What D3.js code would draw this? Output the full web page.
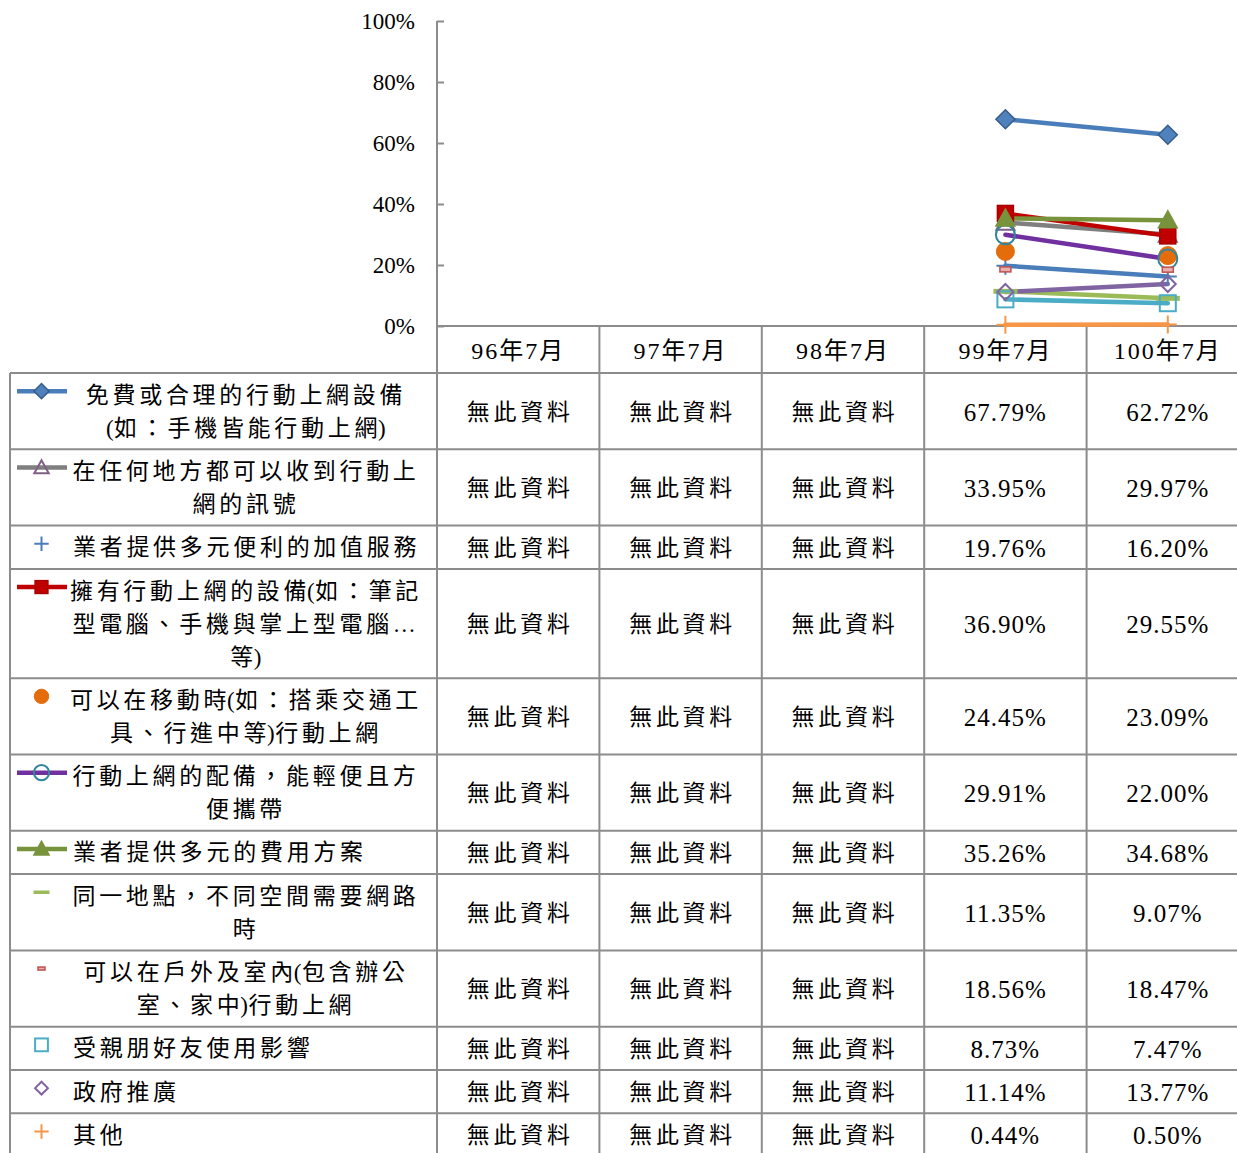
<!DOCTYPE html>
<html><head><meta charset="utf-8">
<script src="https://cdn.jsdelivr.net/npm/d3@7"></script>
<style>body{margin:0;background:#fff;} svg{display:block;}</style>
</head><body><svg id="c" width="1237" height="1153"></svg>
<script>
const categories = ["96年7月", "97年7月", "98年7月", "99年7月", "100年7月"];
const seriesLabels = [
  ["免費或合理的行動上網設備", "(如：手機皆能行動上網)"],
  ["在任何地方都可以收到行動上", "網的訊號"],
  ["業者提供多元便利的加值服務"],
  ["擁有行動上網的設備(如：筆記", "型電腦、手機與掌上型電腦…", "等)"],
  ["可以在移動時(如：搭乘交通工", "具、行進中等)行動上網"],
  ["行動上網的配備，能輕便且方", "便攜帶"],
  ["業者提供多元的費用方案"],
  ["同一地點，不同空間需要網路", "時"],
  ["可以在戶外及室內(包含辦公", "室、家中)行動上網"],
  ["受親朋好友使用影響"],
  ["政府推廣"],
  ["其他"]
];
const values96 = [null, null, null, null, null, null, null, null, null, null, null, null];
const values97 = [null, null, null, null, null, null, null, null, null, null, null, null];
const values98 = [null, null, null, null, null, null, null, null, null, null, null, null];
const values99 = [67.79, 33.95, 19.76, 36.90, 24.45, 29.91, 35.26, 11.35, 18.56, 8.73, 11.14, 0.44];
const values100 = [62.72, 29.97, 16.20, 29.55, 23.09, 22.00, 34.68, 9.07, 18.47, 7.47, 13.77, 0.50];
const yTicks = [0, 20, 40, 60, 80, 100];
const noDataText = "無此資料";

const styles = [
  {line:"#4a7ebb", marker:"diamond", fill:"#4f81bd", stroke:"#385d8a", legendLine:true},
  {line:"#7f7f7f", marker:"triangle", fill:"none", stroke:"#7f6084", legendLine:true},
  {line:"#4a7ebb", marker:"plus", fill:"none", stroke:"#4a7ebb", legendLine:false},
  {line:"#c00000", marker:"square", fill:"#c00000", stroke:"#a80000", legendLine:true},
  {line:null, marker:"circle", fill:"#e46c0a", stroke:"#e46c0a", legendLine:false},
  {line:"#7030a0", marker:"circle", fill:"none", stroke:"#31859c", legendLine:true},
  {line:"#77933c", marker:"triangle", fill:"#77933c", stroke:"#77933c", legendLine:true},
  {line:"#9bbb59", marker:"dash", fill:"#9bbb59", stroke:"none", legendLine:false},
  {line:null, marker:"smalldash", fill:"#e6b0ae", stroke:"#c0504d", legendLine:false},
  {line:"#4bacc6", marker:"square", fill:"none", stroke:"#4bacc6", legendLine:false},
  {line:"#8064a2", marker:"diamond", fill:"none", stroke:"#8064a2", legendLine:false},
  {line:"#f79646", marker:"plus", fill:"none", stroke:"#f79646", legendLine:false}
];

const allValues = [values96, values97, values98, values99, values100];
const series = seriesLabels.map((lab, i) => ({
  label: lab,
  values: categories.map((c, k) => ({cat: c, v: allValues[k][i]})),
  style: styles[i]
}));

const svg = d3.select("#c");
const gridColor = "#8c8c8c";
const serif = "'Liberation Serif', 'Noto Sans CJK TC', serif";
const cjk = "'Liberation Serif', 'Noto Sans CJK TC', sans-serif";
const cjkSize = 23, cjkSpacing = 3.7;

const plotLeft = 437, colW = 162.4, tableLeft = 10, W = 1237;
const x = d3.scaleBand().domain(categories).range([plotLeft, plotLeft + colW * categories.length]);
const y = d3.scaleLinear().domain([0, 100]).range([326, 21]);
const cx = c => x(c) + x.bandwidth() / 2;

// ---- Table geometry
const headerTop = y(0), headerBottom = 373;
const rowH = n => 43.3 + 33 * (n - 1);
let acc = headerBottom;
const rows = series.map(s => { const top = acc; const h = rowH(s.label.length); acc += h; return {top, h}; });

// grid lines
const grid = svg.append("g").attr("stroke", gridColor).attr("stroke-width", 2);
grid.append("line").attr("x1", plotLeft).attr("x2", W).attr("y1", headerTop).attr("y2", headerTop);
grid.append("line").attr("x1", tableLeft).attr("x2", W).attr("y1", headerBottom).attr("y2", headerBottom);
rows.forEach(r => grid.append("line").attr("x1", tableLeft).attr("x2", W).attr("y1", r.top + r.h).attr("y2", r.top + r.h));
grid.append("line").attr("x1", tableLeft).attr("x2", tableLeft).attr("y1", headerBottom).attr("y2", 1153);
grid.append("line").attr("x1", plotLeft).attr("x2", plotLeft).attr("y1", y(100)).attr("y2", 1153);
categories.slice(1).forEach(c => grid.append("line").attr("x1", x(c)).attr("x2", x(c)).attr("y1", headerTop).attr("y2", 1153));

// y axis ticks / labels
const yAxis = d3.axisLeft(y).tickValues(yTicks).tickFormat(d => d + "%").tickSizeInner(-7).tickSizeOuter(0).tickPadding(22);
const ya = svg.append("g").attr("transform", `translate(${plotLeft},0)`).call(yAxis);
ya.select(".domain").remove();
ya.selectAll(".tick line").attr("stroke", gridColor).attr("stroke-width", 2);
ya.selectAll(".tick text").attr("fill", "#000").style("font-family", serif).style("font-size", "23px");

// header labels
svg.append("g").selectAll("text").data(categories).join("text")
  .attr("x", d => cx(d)).attr("y", (headerTop + headerBottom) / 2 + 1)
  .attr("text-anchor", "middle").attr("dominant-baseline", "central")
  .style("font-family", serif).style("font-size", "24px").style("letter-spacing", "2px")
  .text(d => d);

// spaced CJK text: ASCII chars (and the char before them) are not spaced
function spacedText(sel, str) {
  const chars = Array.from(str);
  const isAscii = ch => ch.charCodeAt(0) < 128;
  chars.forEach((ch, k) => {
    const next = chars[k + 1];
    const tight = isAscii(ch) || (next !== undefined && isAscii(next));
    sel.append("tspan").style("letter-spacing", (tight ? 0.5 : cjkSpacing) + "px").text(ch);
  });
}

// marker drawing
function drawMarker(g, st, px, py, s, legend) {
  const t = st.marker;
  if (t === "diamond") {
    const r = (st.fill === "none" ? 8 : 9.5) * s;
    g.append("path").attr("d", `M${px},${py - r}L${px + r},${py}L${px},${py + r}L${px - r},${py}Z`)
      .attr("fill", st.fill === "none" ? "none" : st.fill).attr("stroke", st.stroke).attr("stroke-width", st.fill === "none" ? 2 : 1.5);
  } else if (t === "triangle") {
    const r = 9 * s;
    g.append("path").attr("d", `M${px},${py - r}L${px + r},${py + r * 0.8}L${px - r},${py + r * 0.8}Z`)
      .attr("fill", st.fill).attr("stroke", st.stroke).attr("stroke-width", 2);
  } else if (t === "square") {
    const r = 8 * s;
    g.append("rect").attr("x", px - r).attr("y", py - r).attr("width", 2 * r).attr("height", 2 * r)
      .attr("fill", st.fill).attr("stroke", st.stroke).attr("stroke-width", st.fill === "none" ? 2 : 1.5);
  } else if (t === "circle") {
    const r = (st.fill === "none" ? 9.5 : 9) * s;
    g.append("circle").attr("cx", px).attr("cy", py).attr("r", r)
      .attr("fill", st.fill).attr("stroke", st.stroke).attr("stroke-width", st.fill === "none" ? 2 : 1);
  } else if (t === "plus") {
    const r = 9 * s;
    g.append("path").attr("d", `M${px - r},${py}H${px + r}M${px},${py - r}V${py + r}`)
      .attr("stroke", st.stroke).attr("stroke-width", 2).attr("fill", "none");
  } else if (t === "dash") {
    const w = legend ? 16 : 24, h = legend ? 3.5 : 5;
    g.append("rect").attr("x", px - w / 2).attr("y", py - h / 2).attr("width", w).attr("height", h).attr("fill", st.fill);
  } else if (t === "smalldash") {
    const w = legend ? 7 : 11, h = legend ? 3 : 5;
    g.append("rect").attr("x", px - w / 2).attr("y", py - h / 2).attr("width", w).attr("height", h)
      .attr("fill", st.fill).attr("stroke", st.stroke).attr("stroke-width", 1.5);
  }
}

// chart series: lines first, then markers
const lineGen = d3.line().defined(d => d.v !== null).x(d => cx(d.cat)).y(d => y(d.v));
const linesG = svg.append("g");
const markersG = svg.append("g");
series.forEach(s => {
  if (s.style.line) {
    linesG.append("path").datum(s.values).attr("d", lineGen).attr("fill", "none")
      .attr("stroke", s.style.line).attr("stroke-width", 4.5).attr("stroke-linecap", "round");
  }
  const g = markersG.append("g");
  s.values.filter(d => d.v !== null).forEach(d => drawMarker(g, s.style, cx(d.cat), y(d.v), 1, false));
});

// table: legend labels and values
const table = svg.append("g");
series.forEach((s, i) => {
  const r = rows[i], n = s.label.length;
  const mid = r.top + r.h / 2;
  const lineY = j => mid + 33 * (j - (n - 1) / 2);
  const g = table.append("g");
  s.label.forEach((t, j) => {
    const txt = g.append("text")
      .attr("x", n > 1 ? 246 : 73).attr("y", lineY(j))
      .attr("text-anchor", n > 1 ? "middle" : "start").attr("dominant-baseline", "central")
      .style("font-family", cjk).style("font-size", cjkSize + "px");
    spacedText(txt, t);
  });
  const my = lineY(0) - 3.5;
  if (s.style.legendLine) {
    g.append("line").attr("x1", 17).attr("x2", 67).attr("y1", my).attr("y2", my)
      .attr("stroke", s.style.line).attr("stroke-width", 4.5);
  }
  drawMarker(g, s.style, 41.5, my, 0.8, true);
  s.values.forEach(d => {
    const isNull = d.v === null;
    g.append("text").attr("x", cx(d.cat) + (isNull ? 2 : 0)).attr("y", mid + 1)
      .attr("text-anchor", "middle").attr("dominant-baseline", "central")
      .style("font-family", isNull ? cjk : serif)
      .style("font-size", isNull ? cjkSize + "px" : "25px")
      .style("letter-spacing", isNull ? cjkSpacing + "px" : "1px")
      .text(isNull ? noDataText : d.v.toFixed(2) + "%");
  });
});
</script></body></html>
